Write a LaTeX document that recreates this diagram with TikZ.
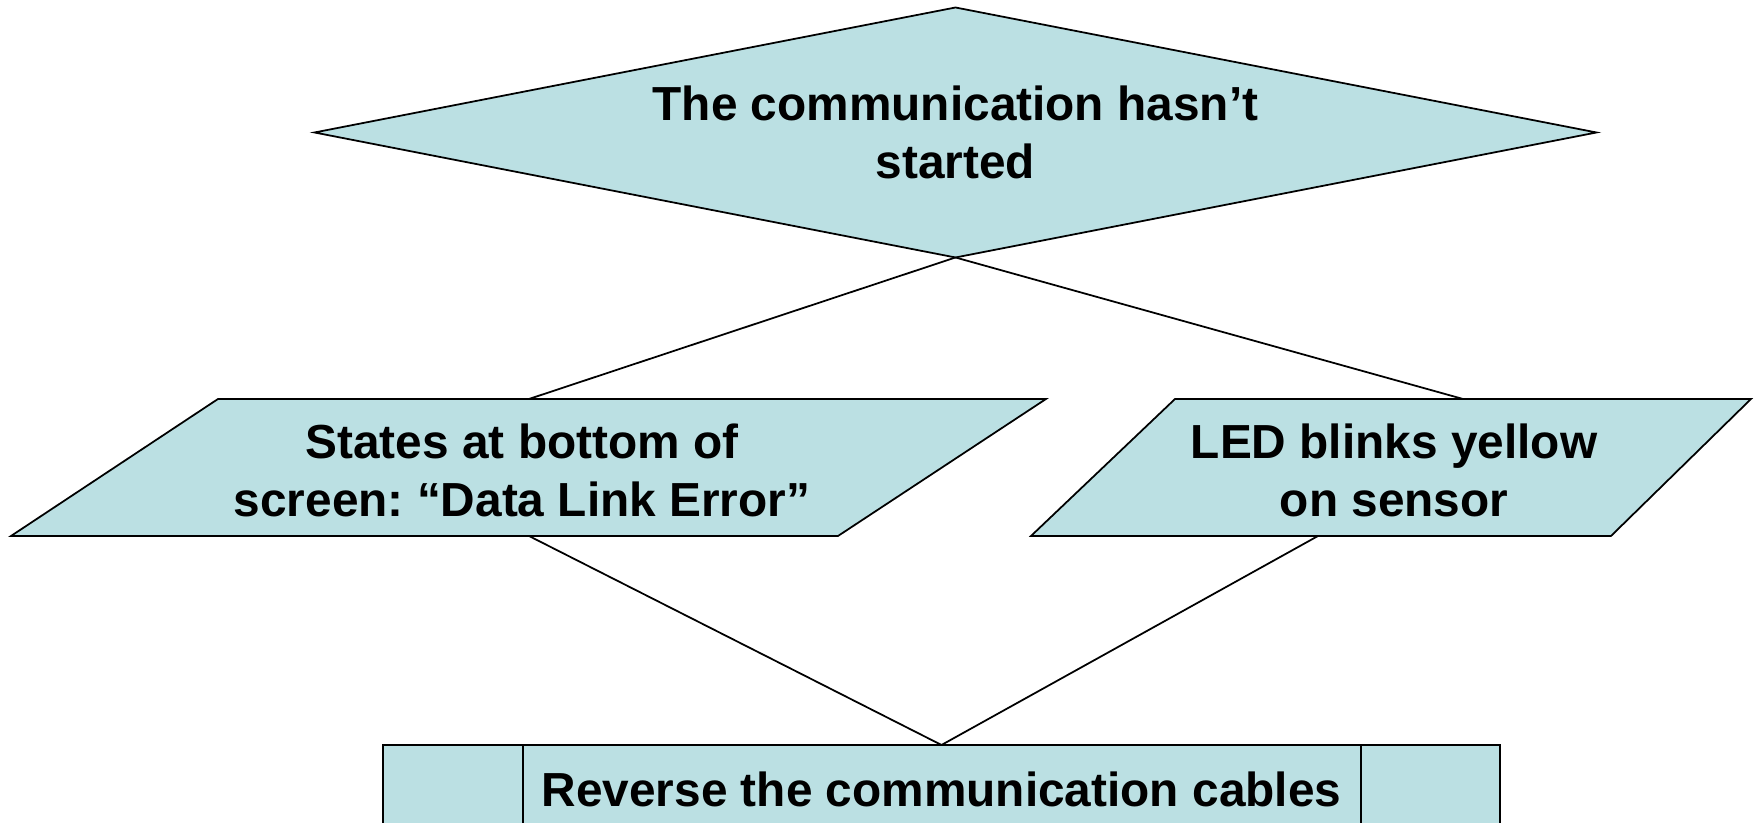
\documentclass[tikz,border=0pt]{standalone}
\usepackage{fontspec}
\setmainfont{Liberation Sans}
\usepackage{tikz}
\usetikzlibrary{positioning}
\usetikzlibrary{shapes.geometric}
\usepackage{xcolor}
\definecolor{boxblue}{RGB}{187,224,227}
\frenchspacing

\begin{document}
\begin{tikzpicture}[
  font=\fontsize{13.6}{16.5}\selectfont\bfseries,
  shapefill/.style={draw, line width=0.5pt, fill=boxblue},
  decision/.style={shapefill, diamond, aspect=5.12, minimum width=12.82cm, minimum height=2.5cm, inner sep=0pt, outer sep=0pt, align=center},
  label/.style={align=center, inner sep=0pt},
  action/.style={shapefill, rectangle, minimum width=11.17cm, minimum height=0.88cm, inner sep=0pt, outer sep=0pt},
  link/.style={line width=0.5pt}
]
\useasboundingbox (0,0) rectangle (17.54,8.23);

% Top: the decision
\node[decision] (start) at (9.555,6.905) {The communication hasn’t\\started};

% Left and right: the two symptoms
\draw[shapefill] (2.18,4.24) -- (10.46,4.24) -- (8.38,2.87) -- (0.11,2.87) -- cycle;
\draw[shapefill] (11.75,4.24) -- (17.51,4.24) -- (16.11,2.87) -- (10.31,2.87) -- cycle;
\node[label] (datalink) at (5.22,3.53) {States at bottom of\\screen: “Data Link Error”};
\node[label] (ledblink) at (13.94,3.53) {LED blinks yellow\\on sensor};

\coordinate (lefttop) at (5.29,4.24);
\coordinate (leftbot) at (5.29,2.87);
\coordinate (righttop) at (14.63,4.24);
\coordinate (rightbot) at (13.18,2.87);

% Bottom: the action
\node[action] (reverse) at (9.415,0.34) {Reverse the communication cables};
\draw[link] ([xshift=1.40cm]reverse.north west) -- ([xshift=1.40cm]reverse.south west);
\draw[link] ([xshift=-1.39cm]reverse.north east) -- ([xshift=-1.39cm]reverse.south east);

% Connectors
\draw[link] (start.south) -- (lefttop);
\draw[link] (start.south) -- (righttop);
\draw[link] (leftbot) -- (reverse.north);
\draw[link] (rightbot) -- (reverse.north);

\end{tikzpicture}
\end{document}
